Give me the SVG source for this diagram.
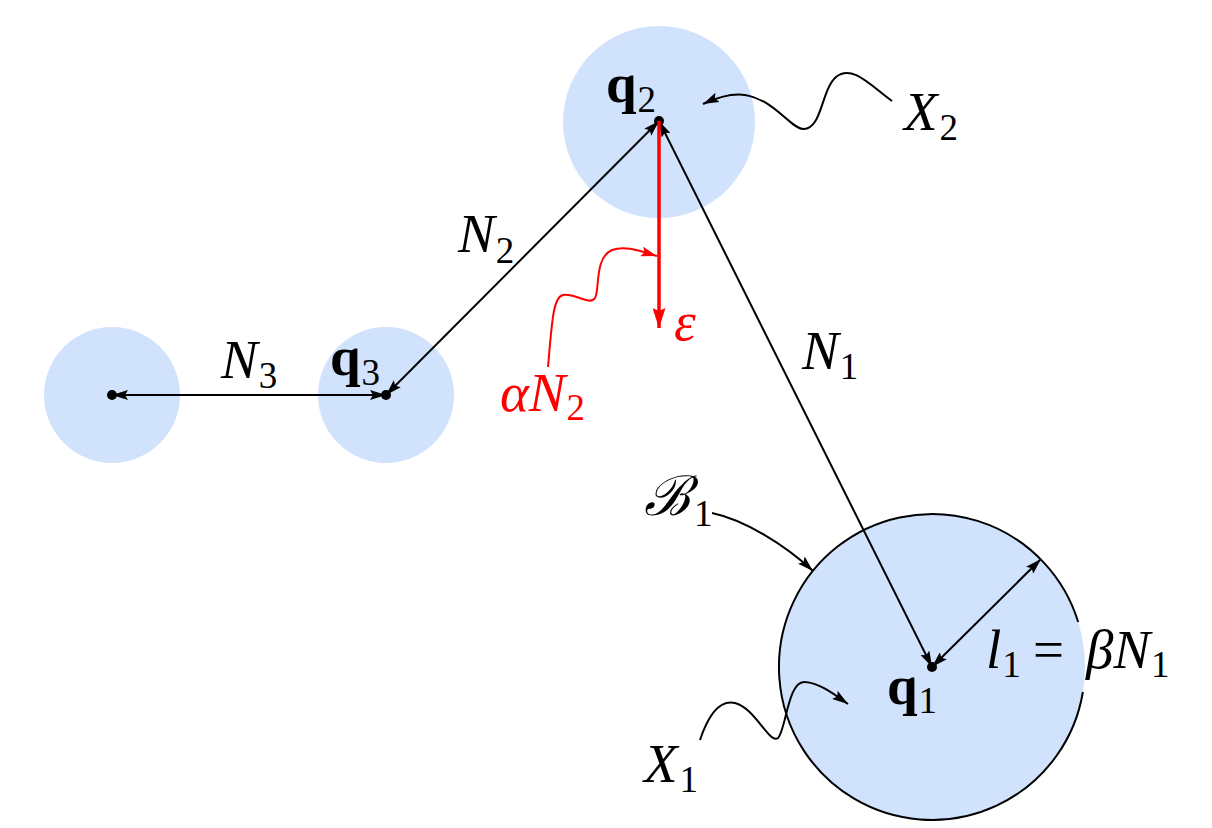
<svg xmlns="http://www.w3.org/2000/svg" width="1212" height="828" viewBox="0 0 1212 828">
<style>
.disk{fill:#d0e2fc;stroke:none}
.dot{fill:#000}
.ln{fill:none;stroke:#000;stroke-width:2}
.red{fill:none;stroke:#ff0000;stroke-width:2}
.t{font-family:"Liberation Serif","Times New Roman",serif;font-size:55px;fill:#000}
.i{font-style:italic}
.b{font-weight:bold}
.s{font-size:37px;font-style:normal;font-weight:normal}
.r{fill:#ff0000}
</style>
<defs>
<marker id="ah" viewBox="0 0 16 10" refX="16" refY="5" markerWidth="16" markerHeight="10" markerUnits="userSpaceOnUse" orient="auto-start-reverse">
<path d="M0 0 L16 5 L0 10 L3 5 Z" fill="#000"/>
</marker>
<marker id="ahr" viewBox="0 0 16 10" refX="16" refY="5" markerWidth="16" markerHeight="10" markerUnits="userSpaceOnUse" orient="auto">
<path d="M0 0 L16 5 L0 10 L3 5 Z" fill="#ff0000"/>
</marker>
<marker id="ahrb" viewBox="0 0 20 13" refX="20" refY="6.5" markerWidth="20" markerHeight="13" markerUnits="userSpaceOnUse" orient="auto">
<path d="M0 0 L20 6.5 L0 13 L3 6.5 Z" fill="#ff0000"/>
</marker>
</defs>

<g id="node-left">
<circle class="disk" cx="112" cy="395" r="68"/>
<circle class="dot" cx="112" cy="395" r="5"/>
</g>
<g id="node-q3">
<circle class="disk" cx="386" cy="395" r="68"/>
<circle class="dot" cx="386" cy="395" r="5"/>
<text class="t b" x="330" y="375">q<tspan class="s" dx="1" y="385">3</tspan></text>
</g>
<g id="node-q2">
<circle class="disk" cx="659" cy="122" r="96"/>
<circle class="dot" cx="659" cy="121" r="5"/>
<text class="t b" x="606" y="102">q<tspan class="s" dx="1" y="112">2</tspan></text>
</g>
<g id="node-q1">
<circle class="disk" cx="932" cy="667" r="153"/>
<path class="ln" d="M1082.9 692 A153 153 0 1 1 1078.2 622"/>
<circle class="dot" cx="932" cy="667" r="5"/>
<text class="t b" x="887" y="704">q<tspan class="s" dx="1" y="713">1</tspan></text>
</g>

<g id="connectors">
<line class="ln" x1="659" y1="121" x2="386" y2="395" marker-start="url(#ah)" marker-end="url(#ah)"/>
<line class="ln" x1="659" y1="121" x2="932" y2="667" marker-start="url(#ah)" marker-end="url(#ah)"/>
<line class="ln" x1="112" y1="395" x2="386" y2="395" marker-start="url(#ah)" marker-end="url(#ah)"/>
<line class="ln" x1="932" y1="667" x2="1041" y2="559" marker-start="url(#ah)" marker-end="url(#ah)"/>
<line x1="659" y1="121" x2="659" y2="328" stroke="#ff0000" stroke-width="3.5" marker-end="url(#ahrb)"/>
<path class="red" d="M548 367 C552 322 553 297 563 295 C575 293 590 306 595 298 C600 290 594 258 612 250 C625 245 640 251 657 256" marker-end="url(#ahr)"/>
<path class="ln" d="M892 101 C870 85 852 64 836 77 C821 90 822 130 803 129 C790 128 775 100 745 95 C731 93 716 98 703 104" marker-end="url(#ah)"/>
<path class="ln" d="M700 740 C710 710 722 700 735 703 C755 708 770 745 778 738 C786 730 788 680 805 682 C820 683 835 695 848 704" marker-end="url(#ah)"/>
<path class="ln" d="M712 513 C745 520 785 545 813 571" marker-end="url(#ah)"/>
</g>

<g id="labels">
<text class="t i" x="458" y="252">N<tspan class="s" dx="1" y="263">2</tspan></text>
<text class="t i" x="802" y="369">N<tspan class="s" dx="1" y="379">1</tspan></text>
<text class="t i" x="221" y="378">N<tspan class="s" dx="1" y="388">3</tspan></text>
<text class="t i" x="904" y="130">X<tspan class="s" dx="2" y="140">2</tspan></text>
<text class="t i" x="644" y="782">X<tspan class="s" dx="2" y="792">1</tspan></text>
<text class="t i" x="644" y="515" font-size="46">ℬ<tspan class="s" dx="4" y="526">1</tspan></text>
<text class="t i r" x="500" y="411">αN<tspan class="s" dx="1" y="420">2</tspan></text>
<text class="t i r" x="674" y="340">ε</text>
<text class="t i" x="986" y="668">l<tspan class="s" dx="1" y="677">1</tspan><tspan font-style="normal" x="1033" y="668">=</tspan><tspan x="1086" y="668">βN</tspan><tspan class="s" dx="1" y="677">1</tspan></text>
</g>
</svg>
